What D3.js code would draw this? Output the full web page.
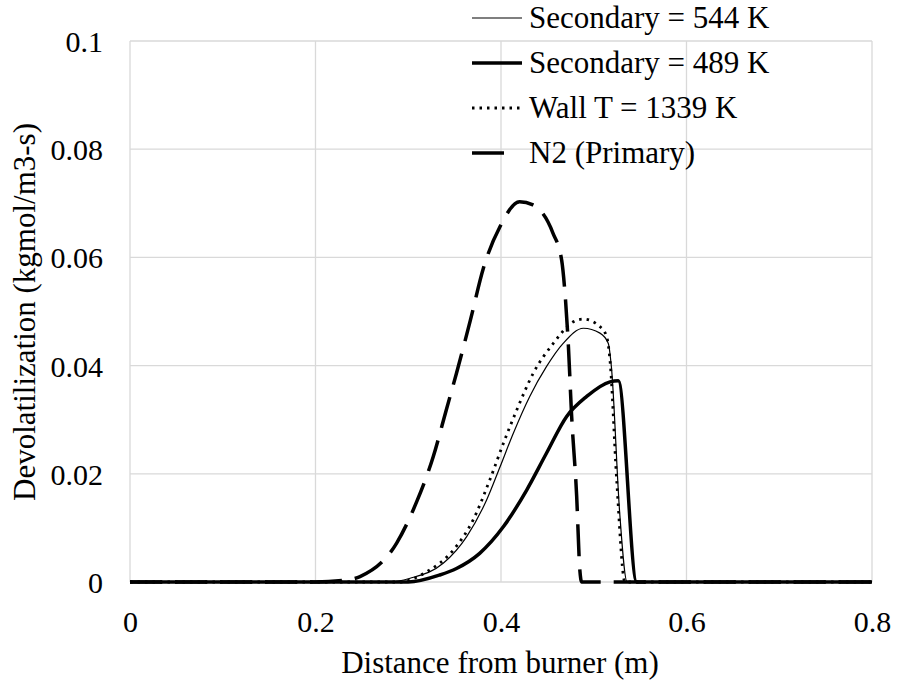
<!DOCTYPE html>
<html>
<head>
<meta charset="utf-8">
<script src="https://cdn.jsdelivr.net/npm/d3@7"></script>
<style>
  html, body { margin: 0; padding: 0; background: #fff; font-family: 'Liberation Serif', 'Times New Roman', Times, serif; }
  svg text { font-family: 'Liberation Serif', 'Times New Roman', Times, serif !important; }
</style>
</head>
<body>
<svg id="chart" width="897" height="683" font-family="Liberation Serif"></svg>
<script>
// ---- data ----
const seriesNames = ["Secondary = 544 K", "Secondary = 489 K", "Wall T = 1339 K", "N2 (Primary)"];
const xTicks = [0, 0.2, 0.4, 0.6, 0.8];
const yTicks = [0, 0.02, 0.04, 0.06, 0.08, 0.1];

const sec544X = [0, 0.28, 0.302, 0.338, 0.363, 0.3846, 0.399, 0.4133, 0.431, 0.449, 0.467, 0.4888, 0.5067, 0.5157, 0.519, 0.528, 0.536, 0.8];
const sec544Y = [0, 0, 0.0007, 0.0035, 0.0084, 0.0152, 0.0213, 0.0275, 0.0343, 0.0398, 0.0441, 0.0469, 0.046, 0.0441, 0.0398, 0.0127, 0, 0];

const sec489X = [0, 0.3, 0.334, 0.352, 0.377, 0.4025, 0.4277, 0.449, 0.4708, 0.4924, 0.5175, 0.5265, 0.5463, 0.8];
const sec489Y = [0, 0, 0.0013, 0.0025, 0.0053, 0.0102, 0.017, 0.0238, 0.0306, 0.0343, 0.037, 0.0372, 0, 0];

const wallX = [0, 0.29, 0.32, 0.3486, 0.37, 0.388, 0.4025, 0.417, 0.4348, 0.4564, 0.478, 0.4888, 0.5067, 0.514, 0.5175, 0.5247, 0.5337, 0.8];
const wallY = [0, 0, 0.0019, 0.0059, 0.0115, 0.0189, 0.0256, 0.0318, 0.0386, 0.0441, 0.0481, 0.0486, 0.0472, 0.0453, 0.041, 0.0189, 0, 0];

const n2X = [0, 0.2, 0.23, 0.248, 0.2875, 0.309, 0.327, 0.341, 0.352, 0.367, 0.381, 0.399, 0.42, 0.4345, 0.456, 0.4654, 0.469, 0.4727, 0.476, 0.4816, 0.485, 0.487, 0.8];
const n2Y = [0, 0, 0.0003, 0.001, 0.0072, 0.0148, 0.0232, 0.0318, 0.0386, 0.0484, 0.058, 0.0657, 0.0703, 0.0697, 0.0645, 0.0595, 0.0534, 0.0435, 0.0312, 0.0158, 0.0022, 0, 0];

// ---- layout ----
const FONT = "'Liberation Serif'";
const svg = d3.select("#chart");
const pLeft = 130, pRight = 872, pTop = 41, pBottom = 582;
const x = d3.scaleLinear().domain([0, 0.8]).range([pLeft, pRight]);
const y = d3.scaleLinear().domain([0, 0.1]).range([pBottom, pTop]);

// gridlines
const grid = svg.append("g");
grid.selectAll("line.v").data(xTicks).enter().append("line")
  .attr("x1", d => x(d)).attr("x2", d => x(d))
  .attr("y1", pTop).attr("y2", pBottom)
  .attr("stroke", "#d9d9d9").attr("stroke-width", 1.3);
grid.selectAll("line.h").data(yTicks).enter().append("line")
  .attr("x1", pLeft).attr("x2", pRight)
  .attr("y1", d => y(d)).attr("y2", d => y(d))
  .attr("stroke", "#d9d9d9").attr("stroke-width", 1.3);

// axes (labels only)
const xAxis = d3.axisBottom(x).tickValues(xTicks).tickSize(0).tickPadding(0)
  .tickFormat(d => d === 0 ? "0" : String(+d.toFixed(1)));
const gx = svg.append("g").attr("transform", `translate(0,${pBottom})`).call(xAxis)
  .attr("font-family", null).attr("font-size", null);
gx.select(".domain").remove();
gx.selectAll("text").attr("dy", null).attr("y", 50).attr("fill", "#000")
  .attr("font-family", "Liberation Serif").attr("font-size", 30)
  .style("font-family", FONT).style("font-size", "30px");

const yAxis = d3.axisLeft(y).tickValues(yTicks).tickSize(0).tickPadding(0)
  .tickFormat(d => d === 0 ? "0" : String(+d.toFixed(2)));
const gy = svg.append("g").call(yAxis)
  .attr("font-family", null).attr("font-size", null);
gy.select(".domain").remove();
gy.selectAll("text").attr("x", 103).attr("dy", "0.35em").attr("fill", "#000")
  .attr("font-family", "Liberation Serif").attr("font-size", 30)
  .style("font-family", FONT).style("font-size", "30px");

// series
const styles = [
  { w: 1.2, dash: null },
  { w: 3.5, dash: null },
  { w: 2.8, dash: "2.5,5" },
  { w: 3.5, dash: "32,13" }
];
const seriesData = [
  d3.zip(sec544X, sec544Y),
  d3.zip(sec489X, sec489Y),
  d3.zip(wallX, wallY),
  d3.zip(n2X, n2Y)
];
const line = d3.line().x(d => x(d[0])).y(d => y(d[1])).curve(d3.curveMonotoneX);
seriesData.forEach((data, i) => {
  svg.append("path").datum(data)
    .attr("d", line)
    .attr("fill", "none")
    .attr("stroke", "#000")
    .attr("stroke-width", styles[i].w)
    .attr("stroke-linejoin", "round")
    .attr("stroke-dasharray", styles[i].dash);
});

// axis titles
svg.append("text")
  .attr("x", 500).attr("y", 673)
  .attr("text-anchor", "middle")
  .attr("font-family", "Liberation Serif").attr("font-size", 31)
  .style("font-family", FONT).style("font-size", "31px")
  .text("Distance from burner (m)");
svg.append("text")
  .attr("transform", "translate(35,312) rotate(-90)")
  .attr("text-anchor", "middle")
  .attr("font-family", "Liberation Serif").attr("font-size", 31)
  .style("font-family", FONT).style("font-size", "31px")
  .text("Devolatilization (kgmol/m3-s)");

// legend
const legendRowY = [18, 63, 108, 153];
const legendLineEnd = [522, 522, 522, 505];
const lg = svg.append("g");
seriesNames.forEach((name, i) => {
  lg.append("line")
    .attr("x1", 472).attr("x2", legendLineEnd[i])
    .attr("y1", legendRowY[i]).attr("y2", legendRowY[i])
    .attr("stroke", "#000")
    .attr("stroke-width", styles[i].w)
    .attr("stroke-dasharray", styles[i].dash);
  lg.append("text")
    .attr("x", 529).attr("y", legendRowY[i] + 10)
    .attr("font-family", "Liberation Serif").attr("font-size", 31)
    .style("font-family", FONT).style("font-size", "31px")
    .text(name);
});

// force layout / font resolution
svg.selectAll("text").each(function () { this.getComputedTextLength(); });
</script>
</body>
</html>
